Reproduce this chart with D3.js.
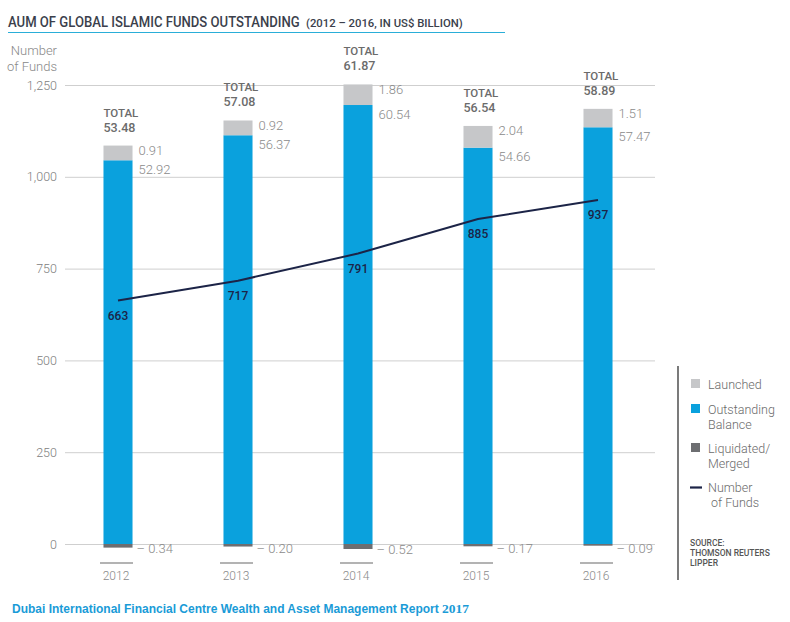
<!DOCTYPE html>
<html><head><meta charset="utf-8">
<script src="https://cdn.jsdelivr.net/npm/d3@7"></script>
<style>
body{margin:0;background:#fff;}
svg{display:block;}
</style></head>
<body><svg id="c" width="790" height="622"></svg>
<script>
const years = ["2012","2013","2014","2015","2016"];
const outstanding = [52.92, 56.37, 60.54, 54.66, 57.47];
const launched = [0.91, 0.92, 1.86, 2.04, 1.51];
const liquidated = [0.34, 0.20, 0.52, 0.17, 0.09];
const totals = ["53.48","57.08","61.87","56.54","58.89"];
const numFunds = [663, 717, 791, 885, 937];
const yTicks = [0, 250, 500, 750, 1000, 1250];

const svg = d3.select("#c");
const F = "Roboto, 'Noto Sans', sans-serif";
const x = d3.scaleBand().domain(years).range([58, 658]).paddingInner(0.758).paddingOuter(0.379);
const yF = d3.scaleLinear().domain([0, 1250]).range([544, 85]);
const yB = d3.scaleLinear().domain([0, 63.3]).range([544, 85]);
const launchedH = d3.scaleLinear().domain([0.91, 2.04]).range([14.7, 21.7]);
const liqH = d3.scaleLinear().domain([0, 0.52]).range([1, 5]);
const bw = x.bandwidth();

// title (single text element, two fitted parts)
const fit = (sel, w) => {
  const n = sel.node().getComputedTextLength();
  sel.attr("font-size", +sel.attr("font-size") * w / n);
};
const t1 = svg.append("text").attr("x", 8).attr("y", 27).attr("fill", "#3b3f4c")
  .style("font-family", "Roboto, sans-serif").style("font-weight", 500).attr("font-size", 14)
  .text("AUM OF GLOBAL ISLAMIC FUNDS OUTSTANDING");
fit(t1, 292);
const t1s = +t1.attr("font-size");
t1.attr("transform", `translate(8,27) scale(1,${14.5 / t1s}) translate(-8,-27)`);
const t2 = svg.append("text").attr("x", 306).attr("y", 27).attr("fill", "#3b3f4c")
  .style("font-family", "Roboto, sans-serif").style("font-weight", 500).attr("font-size", 10)
  .text("(2012 – 2016, IN US$ BILLION)");
fit(t2, 157);
const t2s = +t2.attr("font-size");
t2.attr("transform", `translate(306,27) scale(1,${10.5 / t2s}) translate(-306,-27)`);
svg.append("line").attr("x1", 8).attr("x2", 505).attr("y1", 32.5).attr("y2", 32.5).attr("stroke", "#2aaed8").attr("stroke-width", 1);

// axis label
svg.append("text").attr("x", 57).attr("y", 55).attr("text-anchor", "end").attr("fill", "#888")
  .style("font-family", F).style("font-weight", 300).attr("font-size", 13).text("Number");
svg.append("text").attr("x", 57).attr("y", 71).attr("text-anchor", "end").attr("fill", "#888")
  .style("font-family", F).style("font-weight", 300).attr("font-size", 13).text("of Funds");

// grid + ticks
const axis = d3.axisLeft(yF).tickValues(yTicks).tickSize(-590).tickPadding(8).tickFormat(d3.format(","));
const ga = svg.append("g").attr("transform", "translate(65,0)").call(axis);
ga.select(".domain").remove();
ga.selectAll(".tick line").attr("stroke", "#cfcfcf");
ga.selectAll(".tick text").attr("fill", "#808080").style("font-family", F).style("font-weight", 300).attr("font-size", 12.5);

// bars
const g = svg.append("g");
years.forEach((yr, i) => {
  const x0 = x(yr);
  const top = yB(outstanding[i]);
  const gh = launchedH(launched[i]);
  g.append("rect").attr("x", x0).attr("width", bw).attr("y", top).attr("height", yB(0) - top).attr("fill", "#0aa1dd");
  g.append("rect").attr("x", x0).attr("width", bw).attr("y", top - gh).attr("height", gh).attr("fill", "#c6c7c9");
  g.append("rect").attr("x", x0).attr("width", bw).attr("y", yB(0)).attr("height", liqH(liquidated[i])).attr("fill", "#6d6e71");
  const gt = top - gh;
  g.append("text").attr("x", x0).attr("y", gt - 29).attr("fill", "#6b6b6b").style("font-family", F).style("font-weight", 500).attr("font-size", 11.5).text("TOTAL");
  g.append("text").attr("x", x0).attr("y", gt - 14).attr("fill", "#6b6b6b").style("font-family", F).style("font-weight", 500).attr("font-size", 12.5).text(totals[i]);
  g.append("text").attr("x", x0 + bw + 6).attr("y", gt + 9.5).attr("fill", "#8a8a8a").style("font-family", F).style("font-weight", 300).attr("font-size", 13).text(launched[i].toFixed(2));
  g.append("text").attr("x", x0 + bw + 6).attr("y", top + 13.5).attr("fill", "#8a8a8a").style("font-family", F).style("font-weight", 300).attr("font-size", 13).text(outstanding[i].toFixed(2));
  g.append("text").attr("x", x0 + bw + 4).attr("y", yB(0) + 8 + liqH(liquidated[i]) * 0.4).attr("fill", "#8a8a8a").style("font-family", F).style("font-weight", 300).attr("font-size", 13).text("– " + liquidated[i].toFixed(2));
  const cx = x0 + bw / 2;
  g.append("line").attr("x1", cx - 18).attr("x2", cx + 15).attr("y1", 563).attr("y2", 563).attr("stroke", "#9a9a9a").attr("stroke-width", 1.5);
  g.append("text").attr("x", cx - 2).attr("y", 580).attr("text-anchor", "middle").attr("fill", "#8a8a8a").style("font-family", F).style("font-weight", 300).attr("font-size", 12).text(yr);
});

// line
const line = d3.line().x((d, i) => x(years[i]) + bw / 2).y(d => yF(d));
svg.append("path").datum(numFunds).attr("d", line).attr("fill", "none").attr("stroke", "#1c2447").attr("stroke-width", 2);
numFunds.forEach((v, i) => {
  svg.append("text").attr("x", x(years[i]) + bw / 2).attr("y", yF(v) + 19).attr("text-anchor", "middle")
    .attr("fill", "#1c2447").style("font-family", F).style("font-weight", 500).attr("font-size", 12).text(v);
});

// legend
svg.append("line").attr("x1", 678).attr("x2", 678).attr("y1", 366).attr("y2", 580).attr("stroke", "#333").attr("stroke-width", 1.3);
const leg = [
  {c: "#c6c7c9", l: ["Launched"], y: 384},
  {c: "#0aa1dd", l: ["Outstanding", "Balance"], y: 409},
  {c: "#6d6e71", l: ["Liquidated/", "Merged"], y: 448},
];
leg.forEach(d => {
  svg.append("rect").attr("x", 691).attr("y", d.y - 5).attr("width", 9).attr("height", 9).attr("fill", d.c);
  d.l.forEach((s, j) => svg.append("text").attr("x", 708).attr("y", d.y + 4.5 + j * 15).attr("fill", "#6b6b6b")
    .style("font-family", F).style("font-weight", 300).attr("font-size", 12.5).text(s));
});
svg.append("line").attr("x1", 690).attr("x2", 702).attr("y1", 487.5).attr("y2", 487.5).attr("stroke", "#1c2447").attr("stroke-width", 2.2);
["Number", "of Funds"].forEach((s, j) => svg.append("text").attr("x", j ? 711 : 708).attr("y", 492 + j * 15).attr("fill", "#6b6b6b")
  .style("font-family", F).style("font-weight", 300).attr("font-size", 12.5).text(s));
["SOURCE:", "THOMSON REUTERS", "LIPPER"].forEach((s, j) => svg.append("text").attr("x", 690).attr("y", 546 + j * 10).attr("fill", "#555")
  .style("font-family", F).style("font-weight", 500).attr("font-size", 8.5).text(s));

// footer
const ft = svg.append("text").attr("x", 12).attr("y", 613).attr("fill", "#1a9bd7")
  .style("font-family", "'Liberation Sans', Arial, sans-serif").style("font-weight", "bold").attr("font-size", 12);
ft.append("tspan").text("Dubai International Financial Centre Wealth and Asset Management Report ");
ft.append("tspan").attr("font-size", 13.5).style("font-family", "'Liberation Serif', serif").text("2017");
</script></body></html>
